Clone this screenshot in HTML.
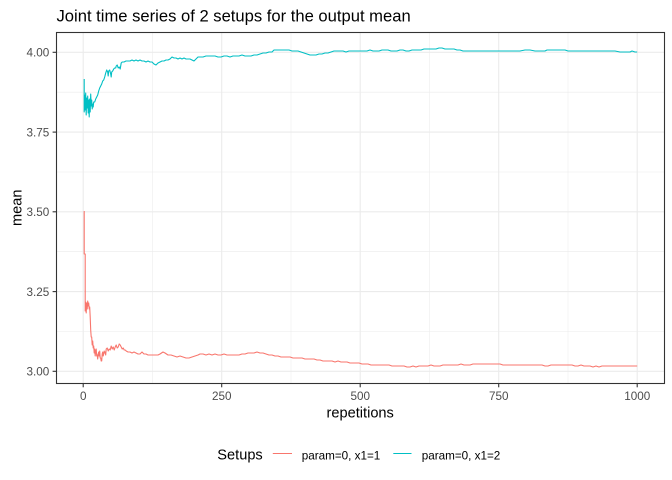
<!DOCTYPE html>
<html>
<head>
<meta charset="utf-8">
<style>
  html, body { margin: 0; padding: 0; background: #ffffff; }
  svg { display: block; }
  text { font-family: "Liberation Sans", Arial, sans-serif; }
</style>
</head>
<body>
<svg width="672" height="480" viewBox="0 0 672 480" xmlns="http://www.w3.org/2000/svg">
  <rect x="0" y="0" width="672" height="480" fill="#ffffff"/>

  <!-- Title -->
  <text x="56.5" y="21.3" font-size="16.6" fill="#000000">Joint time series of 2 setups for the output mean</text>

  <!-- Panel background -->
  <rect x="56.5" y="32.5" width="608" height="351" fill="#ffffff"/>

  <!-- Minor grid -->
  <g stroke="#EBEBEB" stroke-width="0.55" fill="none">
    <line x1="56.5" x2="664.5" y1="92.2" y2="92.2"/>
    <line x1="56.5" x2="664.5" y1="172" y2="172"/>
    <line x1="56.5" x2="664.5" y1="251.7" y2="251.7"/>
    <line x1="56.5" x2="664.5" y1="331.4" y2="331.4"/>
    <line y1="32.5" y2="383.5" x1="152.5" x2="152.5"/>
    <line y1="32.5" y2="383.5" x1="291" x2="291"/>
    <line y1="32.5" y2="383.5" x1="429.5" x2="429.5"/>
    <line y1="32.5" y2="383.5" x1="568" x2="568"/>
  </g>
  <!-- Major grid -->
  <g stroke="#EBEBEB" stroke-width="1.1" fill="none">
    <line x1="56.5" x2="664.5" y1="52.3" y2="52.3"/>
    <line x1="56.5" x2="664.5" y1="132.1" y2="132.1"/>
    <line x1="56.5" x2="664.5" y1="211.8" y2="211.8"/>
    <line x1="56.5" x2="664.5" y1="291.6" y2="291.6"/>
    <line x1="56.5" x2="664.5" y1="371.3" y2="371.3"/>
    <line y1="32.5" y2="383.5" x1="83.2" x2="83.2"/>
    <line y1="32.5" y2="383.5" x1="221.7" x2="221.7"/>
    <line y1="32.5" y2="383.5" x1="360.2" x2="360.2"/>
    <line y1="32.5" y2="383.5" x1="498.7" x2="498.7"/>
    <line y1="32.5" y2="383.5" x1="637.2" x2="637.2"/>
  </g>

  <!-- Red series: param=0, x1=1 -->
  <path fill="none" stroke="#F8766D" stroke-width="1.1" stroke-linejoin="round" d="M84.2,211 L84.2,254 L85.2,254 L85.2,311 L85.7,302 L86.2,313 L86.7,303 L87.2,309 L87.7,301 L88.2,306 L88.7,303 L89.2,309 L89.7,307 L90.2,317 L90.7,330 L91.2,337 L91.7,337 L92.2,345 L92.7,341 L93.2,348 L93.7,346 L94.2,353 L94.7,349 L95.2,356 L95.7,351 L96.2,349 L96.7,356 L97.2,355 L97.7,359 L98.2,354 L98.7,352 L99.2,356 L99.7,351 L100.2,358 L100.7,358 L101.2,361 L101.7,361 L102.2,354 L102.7,352 L103.2,356 L103.7,354 L104.2,351 L104.7,353 L105.2,352 L105.7,355 L106.2,349 L107.2,348 L108.2,351 L109.2,349 L110.2,350 L111.2,346 L112.2,349 L113.2,347 L114.2,350 L115.2,347 L116.2,345 L117.2,348 L118.2,347 L119.2,344 L120.2,345 L121.2,347 L122.2,349 L123.2,348 L124.2,350 L125.2,350 L126.2,351 L128,352 L130,352 L132,353 L134,352 L136,353 L138,354 L140,354 L142,352 L144,354 L146,354 L148,355 L150,355 L152,355 L155,355 L158,355 L160,354 L163,352 L165,353 L168,355 L171,355 L174,356 L177,357 L180,356 L183,357 L186,358 L189,358 L192,357 L195,356 L198,355 L200,354 L203,354 L206,355 L209,354 L212,355 L215,354 L218,355 L221,355 L224,354 L227,355 L230,355 L233,355 L236,355 L239,355 L242,354 L245,354 L248,353 L251,353 L254,353 L257,352 L260,353 L263,353 L266,354 L269,355 L272,355 L275,356 L278,356 L281,357 L284,357 L287,357 L290,357 L293,358 L296,358 L299,358 L302,358 L305,359 L308,359 L311,359 L314,359 L317,360 L320,360 L323,361 L326,361 L329,361 L332,361 L335,362 L338,361 L341,362 L344,362 L347,362 L350,363 L353,363 L356,363 L359,363 L362,364 L365,364 L368,364 L371,365 L374,365 L377,365 L380,365 L383,365 L386,365 L389,365 L392,366 L395,366 L398,366 L401,366 L404,366 L407,367 L410,367 L413,366 L416,367 L419,366 L422,366 L425,366 L428,366 L431,365 L434,366 L437,366 L440,366 L443,365 L446,365 L449,365 L452,365 L455,365 L458,365 L461,364 L464,365 L467,365 L470,365 L473,364 L476,364 L479,364 L482,364 L485,364 L488,364 L491,364 L494,364 L497,364 L500,364 L503,365 L506,365 L509,365 L512,365 L515,365 L518,365 L521,365 L524,365 L527,365 L530,365 L533,365 L536,365 L539,365 L542,365 L545,366 L548,366 L551,365 L554,365 L557,365 L560,365 L563,365 L566,365 L569,365 L572,365 L575,366 L578,366 L581,365 L584,366 L587,366 L590,366 L593,367 L596,366 L599,367 L602,366 L605,366 L608,366 L611,366 L614,366 L617,366 L620,366 L623,366 L626,366 L629,366 L632,366 L635,366 L637.2,366"/>

  <!-- Cyan series: param=0, x1=2 -->
  <path fill="none" stroke="#00BFC4" stroke-width="1.1" stroke-linejoin="round" d="M84.2,79 L84.2,112 L84.7,95 L85.2,110 L85.7,93 L86.2,115 L86.7,98 L87.2,108 L87.7,96 L88.2,113 L88.7,100 L89.2,117 L89.7,99 L90.2,112 L90.7,94 L91.2,106 L91.7,100 L92.2,109 L92.7,104 L93.2,107 L93.7,102 L94.7,102 L95.7,99 L96.7,97 L97.7,95 L98.7,91 L99.7,88 L100.7,86 L101.7,84 L102.7,81 L103.7,80 L104.7,77 L105.7,73 L106.7,70 L107.7,72 L108.2,76 L108.7,71 L109.7,70 L110.7,74 L111.2,77 L111.7,72 L112.7,71 L113.7,69 L114.7,68 L115.7,68 L116.2,66 L117.2,65 L118.2,68 L119.2,67 L120.2,69 L121.2,63 L122.2,62 L124,62 L126,61 L128,61 L130,61 L132,60 L134,61 L136,60 L138,61 L140,60 L142,61 L144,61 L146,62 L148,61 L150,62 L152,62 L154,64 L156,65 L158,63 L160,62 L162,61 L164,61 L166,60 L168,60 L170,59 L172,57 L174,58 L176,58 L178,59 L180,58 L182,59 L184,58 L186,59 L188,59 L190,59 L192,60 L194,61 L196,59 L198,57 L200,57 L203,57 L206,56 L209,56 L212,56 L215,56 L218,57 L221,57 L224,56 L227,56 L230,57 L233,56 L236,56 L239,56 L242,55 L245,56 L248,56 L251,56 L254,55 L257,55 L260,54 L263,53 L266,53 L269,52 L272,52 L274,50 L277,50 L280,50 L283,50 L286,50 L289,50 L292,51 L295,51 L298,51 L301,52 L304,53 L307,54 L310,55 L313,55 L316,55 L319,54 L322,54 L325,53 L328,53 L331,52 L334,51 L337,51 L340,51 L343,51 L346,52 L349,51 L352,51 L355,51 L358,51 L361,51 L364,51 L367,51 L370,50 L373,51 L376,51 L379,51 L382,50 L385,50 L388,50 L391,51 L394,51 L397,51 L400,50 L403,50 L406,51 L409,51 L412,50 L415,50 L418,50 L421,50 L424,49 L427,49 L430,49 L433,49 L436,49 L439,48 L442,48 L445,49 L448,49 L451,49 L454,49 L457,50 L460,50 L463,51 L466,51 L470,51 L475,51 L480,51 L485,51 L490,51 L495,51 L500,51 L505,51 L510,51 L515,51 L520,51 L525,50 L530,50 L535,51 L540,51 L545,51 L547,50 L552,50 L557,50 L562,50 L565,50 L568,51 L572,51 L576,51 L580,51 L585,51 L590,51 L595,51 L600,51 L605,51 L610,51 L615,51 L620,52 L625,52 L630,52 L632,51 L635,52 L637.2,52"/>

  <!-- Panel border -->
  <rect x="56.5" y="32.5" width="608" height="351" fill="none" stroke="#333333" stroke-width="1.1"/>

  <!-- Axis ticks -->
  <g stroke="#333333" stroke-width="1.1">
    <line x1="52.6" x2="56.5" y1="52.3" y2="52.3"/>
    <line x1="52.6" x2="56.5" y1="132.1" y2="132.1"/>
    <line x1="52.6" x2="56.5" y1="211.8" y2="211.8"/>
    <line x1="52.6" x2="56.5" y1="291.6" y2="291.6"/>
    <line x1="52.6" x2="56.5" y1="371.3" y2="371.3"/>
    <line y1="383.5" y2="387.3" x1="83.2" x2="83.2"/>
    <line y1="383.5" y2="387.3" x1="221.7" x2="221.7"/>
    <line y1="383.5" y2="387.3" x1="360.2" x2="360.2"/>
    <line y1="383.5" y2="387.3" x1="498.7" x2="498.7"/>
    <line y1="383.5" y2="387.3" x1="637.2" x2="637.2"/>
  </g>

  <!-- Y tick labels -->
  <g font-size="11.7" fill="#4D4D4D" text-anchor="end">
    <text x="49.3" y="56.6">4.00</text>
    <text x="49.3" y="136.4">3.75</text>
    <text x="49.3" y="216.1">3.50</text>
    <text x="49.3" y="295.9">3.25</text>
    <text x="49.3" y="375.6">3.00</text>
  </g>

  <!-- X tick labels -->
  <g font-size="11.7" fill="#4D4D4D" text-anchor="middle">
    <text x="83.2" y="400">0</text>
    <text x="221.7" y="400">250</text>
    <text x="360.2" y="400">500</text>
    <text x="498.7" y="400">750</text>
    <text x="637.2" y="400">1000</text>
  </g>

  <!-- Axis titles -->
  <text x="360.2" y="417.3" font-size="14.6" fill="#000000" text-anchor="middle">repetitions</text>
  <text transform="translate(21.6,207.8) rotate(-90)" x="0" y="0" font-size="14.6" fill="#000000" text-anchor="middle">mean</text>

  <!-- Legend -->
  <text x="217.3" y="459.6" font-size="14.6" fill="#000000">Setups</text>
  <line x1="272.8" x2="292" y1="453.5" y2="453.5" stroke="#F8766D" stroke-width="1.1"/>
  <text x="301.7" y="459.3" font-size="11.7" fill="#000000">param=0, x1=1</text>
  <line x1="393.3" x2="411.5" y1="453.5" y2="453.5" stroke="#00BFC4" stroke-width="1.1"/>
  <text x="421.7" y="459.3" font-size="11.7" fill="#000000">param=0, x1=2</text>
</svg>
</body>
</html>
